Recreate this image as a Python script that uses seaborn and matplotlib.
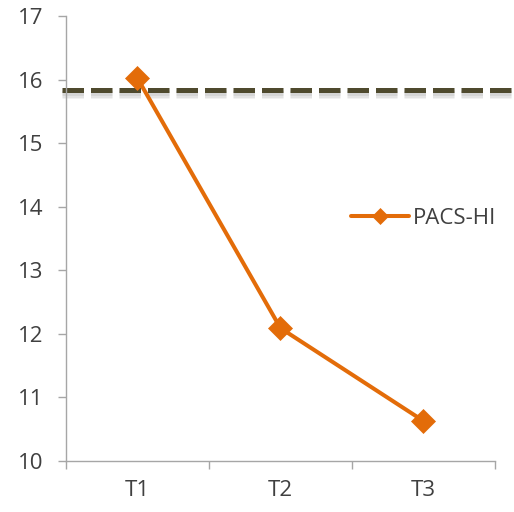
import matplotlib
matplotlib.use("Agg")
import matplotlib.pyplot as plt
import matplotlib.patheffects as pe
from matplotlib.ticker import FixedLocator, NullFormatter, FixedFormatter
import seaborn as sns
import pandas as pd

# Data
timepoints = ["T1", "T2", "T3"]
pacs_hi = [16.02, 12.09, 10.63]
reference_level = 15.84
y_ticks = [10, 11, 12, 13, 14, 15, 16, 17]

sns.set_theme(style="white")
plt.rcParams["font.family"] = ["Open Sans", "DejaVu Sans"]

df = pd.DataFrame({"pos": range(len(timepoints)), "value": pacs_hi, "series": "PACS-HI"})

fig = plt.figure(figsize=(5.14, 5.12), dpi=100)
ax = fig.add_axes([0.1284, 0.0996, 0.963 - 0.1284, 0.96875 - 0.0996])

orange = "#E36C09"
olive = "#4F4A2E"
axis_grey = "#A6A6A6"
text_col = "#404040"

# Dashed reference line with a soft, blurred shadow underneath
shadow = [pe.SimpleLineShadow(offset=(0, -dy), shadow_color="grey", alpha=a, linewidth=w)
          for dy, a, w in [(3.2, 0.10, 6.5), (2.8, 0.12, 5.0), (2.4, 0.15, 3.5)]]
ax.axhline(reference_level, xmin=-0.01, xmax=1.1, color=olive, lw=3.6,
           dashes=(4.3, 1.4), clip_on=False, zorder=2,
           path_effects=shadow + [pe.Normal()])

sns.lineplot(data=df, x="pos", y="value", hue="series", palette=[orange],
             marker="D", markersize=12, markeredgecolor=orange, markeredgewidth=0.5,
             linewidth=2.9, ax=ax, zorder=3)

ax.set_xlim(-0.5, 2.5)
ax.set_ylim(10, 17)
ax.set_yticks(y_ticks)
ax.set_xlabel("")
ax.set_ylabel("")

# Category boundaries carry the tick marks; labels sit at category centres
ax.xaxis.set_major_locator(FixedLocator([-0.5, 0.5, 1.5, 2.5]))
ax.xaxis.set_major_formatter(NullFormatter())
ax.xaxis.set_minor_locator(FixedLocator([0, 1, 2]))
ax.xaxis.set_minor_formatter(FixedFormatter(timepoints))
ax.tick_params(axis="x", which="major", length=6, width=1, color=axis_grey, direction="out", bottom=True)
ax.tick_params(axis="x", which="minor", length=0, labelsize=16, labelcolor=text_col, pad=14, bottom=True)
ax.tick_params(axis="y", which="major", length=6, width=1, color=axis_grey, direction="out",
               labelsize=16, labelcolor=text_col, pad=10, left=True)

for side in ["top", "right"]:
    ax.spines[side].set_visible(False)
for side in ["left", "bottom"]:
    ax.spines[side].set_color(axis_grey)
    ax.spines[side].set_linewidth(1)

leg = ax.legend(loc="center left", bbox_to_anchor=(0.665, 0.546), frameon=False,
                fontsize=16, handlelength=2.6, handletextpad=0.15, borderaxespad=0,
                borderpad=0)
for t in leg.get_texts():
    t.set_color(text_col)
for h in leg.get_lines():
    h.set_markersize(8)

fig.savefig("out.png", dpi=100)
